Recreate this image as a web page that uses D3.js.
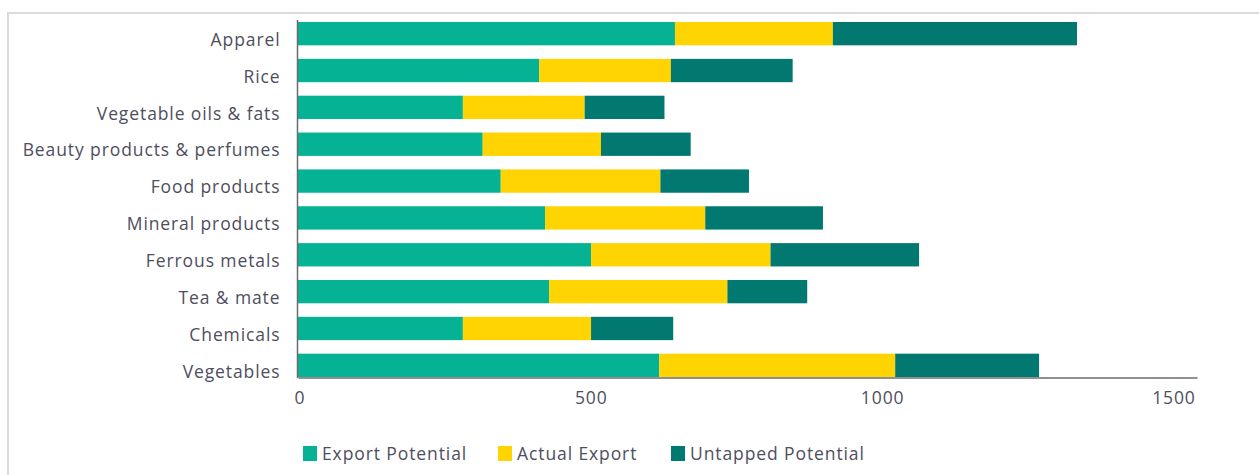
<!DOCTYPE html>
<html>
<head>
<meta charset="utf-8">
<script src="https://cdn.jsdelivr.net/npm/d3@7"></script>
<style>
  html, body { margin: 0; padding: 0; background: #fff; }
  svg { display: block; }
  text { font-family: "Open Sans", "Noto Sans", sans-serif; fill: #4e4e5e; letter-spacing: 0.9px; }
</style>
</head>
<body>
<svg id="chart" width="1259" height="475"></svg>
<script>
const categories = ["Apparel", "Rice", "Vegetable oils & fats", "Beauty products & perfumes",
  "Food products", "Mineral products", "Ferrous metals", "Tea & mate", "Chemicals", "Vegetables"];
const exportPotential   = [647, 414, 283, 317, 348, 424, 503, 431, 283, 620];
const actualExport      = [271, 226, 209, 203, 274, 275, 308, 306, 220, 405];
const untappedPotential = [419, 209, 137, 154, 152, 202, 255, 137, 141, 247];
const seriesNames = ["Export Potential", "Actual Export", "Untapped Potential"];
const colors = ["#05b294", "#ffd400", "#017870"];
const xTicks = [0, 500, 1000, 1500];

const svg = d3.select("#chart");
const FS = 17.5;

// outer frame
svg.append("rect").attr("x", 8).attr("y", 13).attr("width", 1300).attr("height", 500)
  .attr("fill", "none").attr("stroke", "#dadada").attr("stroke-width", 2);

const x = d3.scaleLinear().domain([0, 1543]).range([298, 1197]);
const y = d3.scaleBand().domain(categories).range([22, 377]).paddingInner(0.367).paddingOuter(0);

const rows = categories.map((c, i) => ({
  cat: c,
  "Export Potential": exportPotential[i],
  "Actual Export": actualExport[i],
  "Untapped Potential": untappedPotential[i]
}));
const stacked = d3.stack().keys(seriesNames)(rows);

svg.append("g").selectAll("g").data(stacked).join("g")
  .attr("fill", (d, i) => colors[i])
  .selectAll("rect").data(d => d).join("rect")
  .attr("x", d => x(d[0]))
  .attr("y", d => y(d.data.cat))
  .attr("width", d => x(d[1]) - x(d[0]))
  .attr("height", y.bandwidth());

// y axis (category labels)
const yAxis = svg.append("g").attr("transform", "translate(297.5,0)")
  .call(d3.axisLeft(y).tickSize(0).tickPadding(17));
yAxis.select(".domain").attr("stroke", "#6b6b6b").attr("stroke-width", 1.5)
  .attr("d", "M0,20V378");
yAxis.selectAll("text").attr("font-size", FS).attr("fill", "#4e4e5e")
  .attr("dy", "0.7em")
  .style("font-family", "'Open Sans', sans-serif");

// x axis
const xAxis = svg.append("g").attr("transform", "translate(0,377.5)")
  .call(d3.axisBottom(x).tickValues(xTicks).tickSize(0).tickPadding(14).tickFormat(d3.format("d")));
xAxis.select(".domain").attr("stroke", "#6b6b6b").attr("stroke-width", 1.5);
xAxis.selectAll("text").attr("font-size", FS).attr("fill", "#4e4e5e").attr("dx", 1.5)
  .style("font-family", "'Open Sans', sans-serif");

// legend
const legendX = [303, 498, 671];
const lg = svg.append("g").selectAll("g").data(seriesNames).join("g")
  .attr("transform", (d, i) => `translate(${legendX[i]},446)`);
lg.append("rect").attr("width", 14).attr("height", 15).attr("fill", (d, i) => colors[i]);
lg.append("text").attr("x", 19).attr("y", 7.5).attr("dy", "0.37em")
  .attr("font-size", FS).text(d => d);
</script>
</body>
</html>
